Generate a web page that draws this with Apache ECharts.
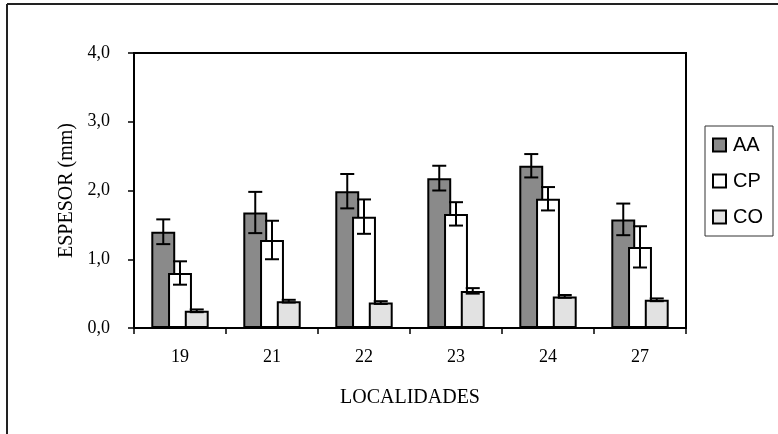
<!DOCTYPE html>
<html>
<head>
<meta charset="utf-8">
<script src="https://cdn.jsdelivr.net/npm/echarts@6/dist/echarts.min.js"></script>
<style>html,body{margin:0;padding:0;background:#fff;}#c{width:778px;height:434px;}</style>
</head>
<body>
<div id="c"></div>
<script>
var categories = ['19', '21', '22', '23', '24', '27'];
var seriesNames = ['AA', 'CP', 'CO'];
var aaValues = [1.40, 1.68, 1.99, 2.18, 2.36, 1.58];
var aaErrors = [0.18, 0.30, 0.25, 0.18, 0.17, 0.23];
var cpValues = [0.80, 1.28, 1.62, 1.66, 1.88, 1.18];
var cpErrors = [0.17, 0.28, 0.25, 0.17, 0.17, 0.30];
var coValues = [0.25, 0.39, 0.37, 0.54, 0.46, 0.41];
var coErrors = [0.02, 0.02, 0.02, 0.04, 0.02, 0.02];
var yTickLabels = ['0,0', '1,0', '2,0', '3,0', '4,0'];

var serif = '"Liberation Serif", "Times New Roman", serif';
var sans = '"Liberation Sans", Arial, sans-serif';
var BAR_W = 0.26, GAP = -0.30;
var fills = ['#8a8a8a', '#ffffff', '#e2e2e2'];

function errData(vals, errs) {
  return vals.map(function (v, i) { return [i, v - errs[i], v + errs[i]]; });
}
function makeErr(k, vals, errs) {
  return {
    type: 'custom',
    name: seriesNames[k] + ' err',
    data: errData(vals, errs),
    encode: { x: 0, y: [1, 2] },
    z: 3,
    renderItem: function (params, api) {
      var i = api.value(0);
      var lo = api.coord([i, api.value(1)]);
      var hi = api.coord([i, api.value(2)]);
      var cw = api.size([1, 0])[0];
      var step = cw * BAR_W * (1 + GAP);
      var x = lo[0] + (k - 1) * step;
      var hw = 7;
      var st = { stroke: '#000', lineWidth: 2 };
      return {
        type: 'group',
        children: [
          { type: 'line', shape: { x1: x, y1: lo[1], x2: x, y2: hi[1] }, style: st },
          { type: 'line', shape: { x1: x - hw, y1: hi[1], x2: x + hw, y2: hi[1] }, style: st },
          { type: 'line', shape: { x1: x - hw, y1: lo[1], x2: x + hw, y2: lo[1] }, style: st }
        ]
      };
    }
  };
}
function makeBar(k, vals) {
  return {
    type: 'bar',
    name: seriesNames[k],
    data: vals,
    barWidth: (BAR_W * 100) + '%',
    barGap: (GAP * 100) + '%',
    z: 2,
    itemStyle: { color: fills[k], borderColor: '#000', borderWidth: 2 }
  };
}

var chart = echarts.init(document.getElementById('c'), null, { renderer: 'canvas' });
chart.setOption({
  animation: false,
  backgroundColor: '#fff',
  grid: { left: 134, right: 92, top: 53, bottom: 106, show: true, borderColor: '#000', borderWidth: 2, backgroundColor: 'transparent' },
  legend: {
    orient: 'vertical',
    left: 705, top: 126,
    data: seriesNames,
    itemWidth: 13, itemHeight: 13, itemGap: 16,
    padding: [9, 10, 9, 7],
    borderColor: '#333', borderWidth: 1,
    icon: 'rect',
    textStyle: { fontFamily: sans, fontSize: 20, color: '#000', lineHeight: 20, padding: [0, 0, 0, 2] }
  },
  xAxis: {
    type: 'category',
    data: categories,
    name: 'LOCALIDADES',
    nameLocation: 'middle',
    nameGap: 60,
    nameTextStyle: { fontFamily: serif, fontSize: 20, color: '#000' },
    axisLine: { lineStyle: { color: '#000', width: 2 } },
    axisTick: { show: true, length: 6, lineStyle: { color: '#000', width: 1.5 } },
    axisLabel: { fontFamily: serif, fontSize: 18, color: '#000', margin: 20 }
  },
  yAxis: {
    type: 'value',
    min: 0, max: 4, interval: 1,
    name: 'ESPESOR (mm)',
    nameLocation: 'middle',
    nameGap: 56,
    nameTextStyle: { fontFamily: serif, fontSize: 20, color: '#000' },
    axisLine: { show: true, lineStyle: { color: '#000', width: 2 } },
    axisTick: { show: true, length: 6, lineStyle: { color: '#000', width: 1.5 } },
    splitLine: { show: false },
    axisLabel: {
      fontFamily: serif, fontSize: 18, color: '#000', margin: 24,
      formatter: function (v) { return yTickLabels[Math.round(v)]; }
    }
  },
  graphic: [
    { type: 'line', shape: { x1: 7, y1: 4, x2: 778, y2: 4 }, style: { stroke: '#222', lineWidth: 2 } },
    { type: 'line', shape: { x1: 7, y1: 4, x2: 7, y2: 434 }, style: { stroke: '#222', lineWidth: 2 } }
  ],
  series: [
    makeBar(0, aaValues), makeErr(0, aaValues, aaErrors),
    makeBar(1, cpValues), makeErr(1, cpValues, cpErrors),
    makeBar(2, coValues), makeErr(2, coValues, coErrors)
  ]
});
</script>
</body>
</html>
